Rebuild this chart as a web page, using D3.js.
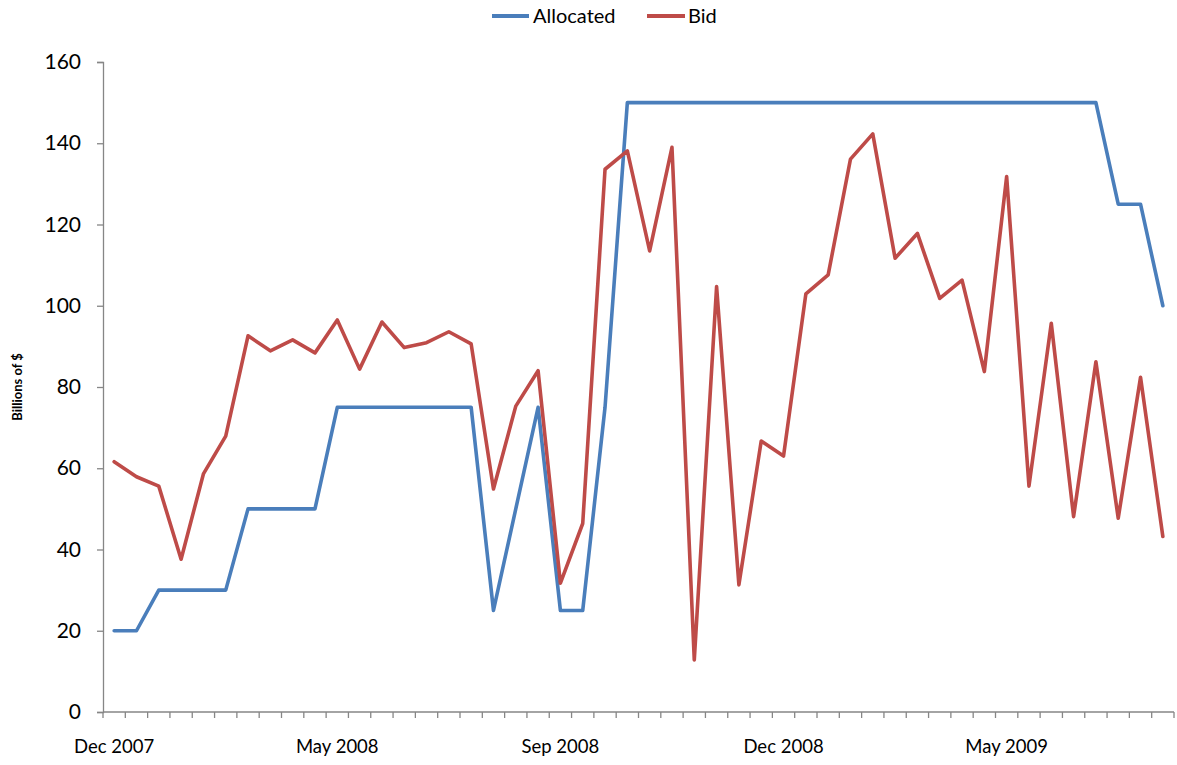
<!DOCTYPE html>
<html>
<head>
<meta charset="utf-8">
<script src="https://cdn.jsdelivr.net/npm/d3@7"></script>
<style>
  html, body { margin: 0; padding: 0; background: #fff; }
  svg { display: block; font-family: Lato, "Open Sans", sans-serif; }
</style>
</head>
<body>
<svg id="chart" width="1177" height="765"></svg>
<script>
// Term Auction Facility results, billions of dollars per auction
const allocated = [
  20, 20, 30, 30, 30, 30, 50, 50, 50, 50,
  75, 75, 75, 75, 75, 75, 75, 25, 50, 75,
  25, 25, 75, 150, 150, 150, 150, 150, 150, 150,
  150, 150, 150, 150, 150, 150, 150, 150, 150, 150,
  150, 150, 150, 150, 150, 125, 125, 100
];
const bid = [
  61.6, 57.9, 55.6, 37.6, 58.6, 67.9, 92.6, 88.9, 91.6, 88.4,
  96.5, 84.4, 96.0, 89.7, 90.9, 93.6, 90.6, 54.9, 75.3, 84.0,
  31.7, 46.4, 133.6, 138.1, 113.5, 139.0, 12.8, 104.7, 31.3, 66.7,
  63.0, 102.9, 107.6, 136.1, 142.3, 111.7, 117.8, 101.8, 106.3, 83.8,
  131.8, 55.6, 95.7, 48.1, 86.2, 47.7, 82.4, 43.2
];
// Category labels shown on the axis, one every ten auctions
const tickLabels = ["Dec 2007", "May 2008", "Sep 2008", "Dec 2008", "May 2009"];
const labelStep = 10;
const yTicks = [0, 20, 40, 60, 80, 100, 120, 140, 160];
const seriesNames = ["Allocated", "Bid"];
const seriesColors = ["#4A7EBB", "#BE4B48"];

const categories = d3.range(allocated.length);
const svg = d3.select("#chart");
const margin = { left: 103, right: 1174, top: 62, bottom: 712 };

const x = d3.scaleBand().domain(categories).range([margin.left, margin.right]);
const y = d3.scaleLinear().domain([0, 160]).range([margin.bottom, margin.top]);

const axisColor = "#868686";

// Y axis
const yAxis = svg.append("g")
  .attr("transform", `translate(${margin.left},0)`)
  .call(d3.axisLeft(y).tickValues(yTicks).tickSize(6).tickPadding(16));
yAxis.select(".domain").attr("stroke", axisColor).attr("stroke-width", 1.3);
yAxis.selectAll(".tick line").attr("stroke", axisColor).attr("stroke-width", 1.3);
yAxis.selectAll(".tick text")
  .attr("fill", "#000").attr("font-size", 21).attr("font-family", "Lato, sans-serif");

// X axis: tick at every category boundary, labels every tenth category
const boundaries = categories.map(c => x(c)).concat([margin.right]);
const xg = svg.append("g");
xg.append("line")
  .attr("x1", margin.left).attr("x2", margin.right)
  .attr("y1", y(0)).attr("y2", y(0))
  .attr("stroke", axisColor).attr("stroke-width", 1.3);
xg.selectAll("line.tk").data(boundaries).join("line")
  .attr("class", "tk")
  .attr("x1", d => d).attr("x2", d => d)
  .attr("y1", y(0)).attr("y2", y(0) + 6)
  .attr("stroke", axisColor).attr("stroke-width", 1.3);
xg.selectAll("text").data(tickLabels).join("text")
  .attr("x", (d, i) => x(i * labelStep) + x.bandwidth() / 2)
  .attr("y", 753)
  .attr("text-anchor", "middle")
  .attr("font-size", 18.5)
  .attr("fill", "#000")
  .text(d => d);

// Y axis title
svg.append("text")
  .attr("transform", `translate(22,${(margin.top + margin.bottom) / 2}) rotate(-90)`)
  .attr("text-anchor", "middle")
  .attr("font-size", 13)
  .attr("font-weight", "bold")
  .attr("fill", "#000")
  .text("Billions of $");

// Series lines
const line = d3.line()
  .x((d, i) => x(i) + x.bandwidth() / 2)
  .y(d => y(d));

[allocated, bid].forEach((vals, k) => {
  svg.append("path")
    .datum(vals)
    .attr("fill", "none")
    .attr("stroke", seriesColors[k])
    .attr("stroke-width", 3.6)
    .attr("stroke-linejoin", "round")
    .attr("stroke-linecap", "round")
    .attr("d", line);
});

// Legend
const legend = svg.append("g");
const legendItems = [
  { x0: 492, x1: 529, tx: 533 },
  { x0: 647, x1: 685, tx: 688 }
];
legendItems.forEach((it, k) => {
  legend.append("line")
    .attr("x1", it.x0).attr("x2", it.x1)
    .attr("y1", 16).attr("y2", 16)
    .attr("stroke", seriesColors[k]).attr("stroke-width", 4);
  legend.append("text")
    .attr("x", it.tx).attr("y", 23)
    .attr("font-size", 20)
    .attr("fill", "#000")
    .text(seriesNames[k]);
});
</script>
</body>
</html>
